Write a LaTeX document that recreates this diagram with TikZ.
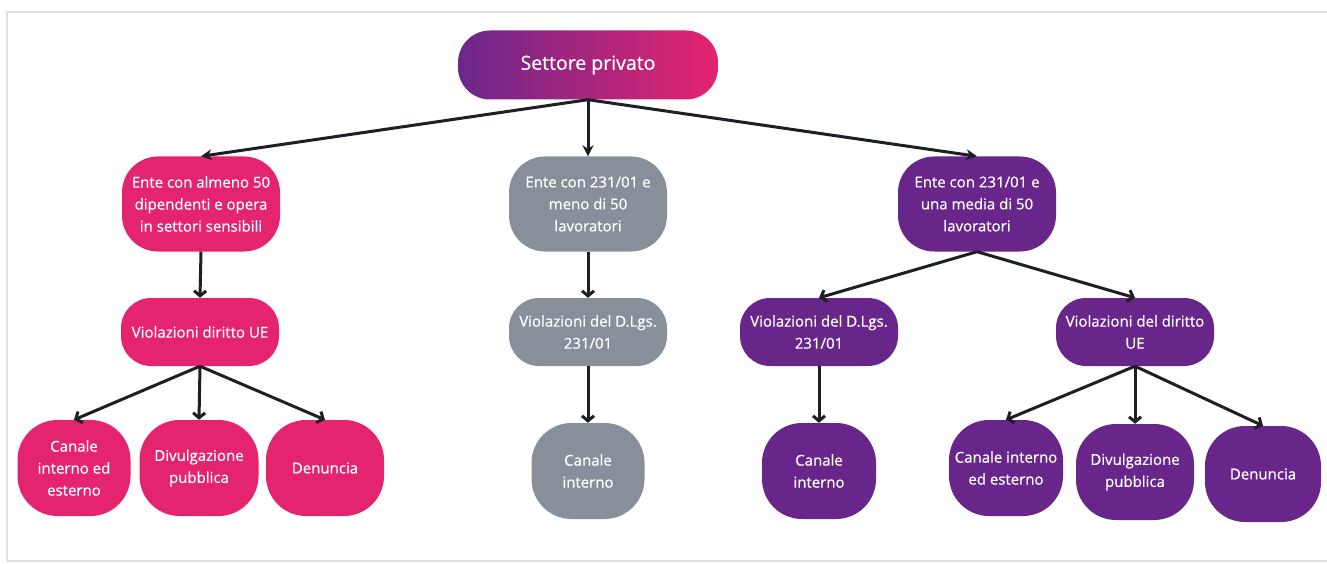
\documentclass[tikz,border=0pt]{standalone}
\usepackage{fontspec}
\setmainfont{Open Sans}[BoldFont={Open Sans},BoldFeatures={FakeBold=0.6}]
\usetikzlibrary{arrows.meta}
\definecolor{rosa}{HTML}{E5246F}
\definecolor{grigio}{HTML}{87909A}
\definecolor{viola}{HTML}{69268A}
\definecolor{violascuro}{HTML}{6A278C}
\definecolor{freccia}{HTML}{1C2024}

\tikzset{
  box/.style={rounded corners=36pt, text=white, align=center, inner sep=0pt,
    font=\fontsize{15}{22}\selectfont\bfseries},
  ente/.style={box, minimum width=158pt, minimum height=95pt},
  viol/.style={box, rounded corners=30pt, minimum width=158pt, minimum height=68pt},
  leaf/.style={box, rounded corners=40pt, minimum width=116pt, minimum height=96pt},
  freccia/.style={line width=3pt, draw=freccia, -{Stealth[length=11pt,width=11pt]}},
  frecciav/.style={line width=3pt, draw=freccia, -{Straight Barb[length=5pt,width=12pt]}},
}

\begin{document}
\begin{tikzpicture}[x=1pt,y=-1pt]
  \useasboundingbox (0,0) rectangle (1327,564);
  %%%%% cornice %%%%%
  \draw[black!12, line width=1.5pt] (7,12) rectangle (1340,561);

  %%%%% radice %%%%%
  \node[box, rounded corners=32pt, minimum width=260pt, minimum height=69pt,
    left color=violascuro, right color=rosa, font=\fontsize{19.5}{22}\selectfont\bfseries]
    (radice) at (588,65) {Settore privato};

  %%%%% enti %%%%%
  \node[ente, fill=rosa] (enteA) at (201,204) {Ente con almeno 50\\dipendenti e opera\\in settori sensibili};
  \node[ente, fill=grigio] (enteB) at (588,204) {Ente con 231/01 e\\meno di 50\\lavoratori};
  \node[ente, fill=viola] (enteC) at (977,204) {Ente con 231/01 e\\una media di 50\\lavoratori};

  %%%%% violazioni %%%%%
  \node[viol, fill=rosa] (violA) at (200,332) {Violazioni diritto UE};
  \node[viol, fill=grigio] (violB) at (588,332) {Violazioni del D.Lgs.\\231/01};
  \node[viol, fill=viola] (violC) at (819,332) {Violazioni del D.Lgs.\\231/01};
  \node[viol, fill=viola] (violD) at (1135,332) {Violazioni del diritto\\UE};

  %%%%% canali %%%%%
  \node[leaf, fill=rosa, minimum width=113pt] (canA1) at (74,468) {Canale\\interno ed\\esterno};
  \node[leaf, fill=rosa, minimum width=119pt] (canA2) at (199,468) {Divulgazione\\pubblica};
  \node[leaf, fill=rosa, minimum width=118pt] (canA3) at (325,468) {Denuncia};
  \node[leaf, fill=grigio, minimum width=113pt] (canB1) at (588,471) {Canale\\interno};
  \node[leaf, fill=viola, minimum width=114pt] (canC1) at (819,471) {Canale\\interno};
  \node[leaf, fill=viola, minimum width=114pt] (canD1) at (1006,468) {Canale interno\\ed esterno};
  \node[leaf, fill=viola, minimum width=118pt] (canD2) at (1135,472) {Divulgazione\\pubblica};
  \node[leaf, fill=viola, minimum width=116pt] (canD3) at (1263,474) {Denuncia};

  %%%%% frecce %%%%%
  \draw[freccia] (radice.south) -- (enteA.north);
  \draw[freccia] (radice.south) -- (enteB.north);
  \draw[freccia] (radice.south) -- (enteC.north);

  \draw[frecciav] (enteA.south) -- (violA.north);
  \draw[frecciav] (enteB.south) -- (violB.north);
  \draw[frecciav] (enteC.south) -- (violC.north);
  \draw[frecciav] (enteC.south) -- (violD.north);

  \draw[frecciav] (violA.south) -- (canA1.north);
  \draw[frecciav] (violA.south) -- (canA2.north);
  \draw[frecciav] (violA.south) -- (canA3.north);
  \draw[frecciav] (violB.south) -- (canB1.north);
  \draw[frecciav] (violC.south) -- (canC1.north);
  \draw[frecciav] (violD.south) -- (canD1.north);
  \draw[frecciav] (violD.south) -- (canD2.north);
  \draw[frecciav] (violD.south) -- (canD3.north);
\end{tikzpicture}
\end{document}
